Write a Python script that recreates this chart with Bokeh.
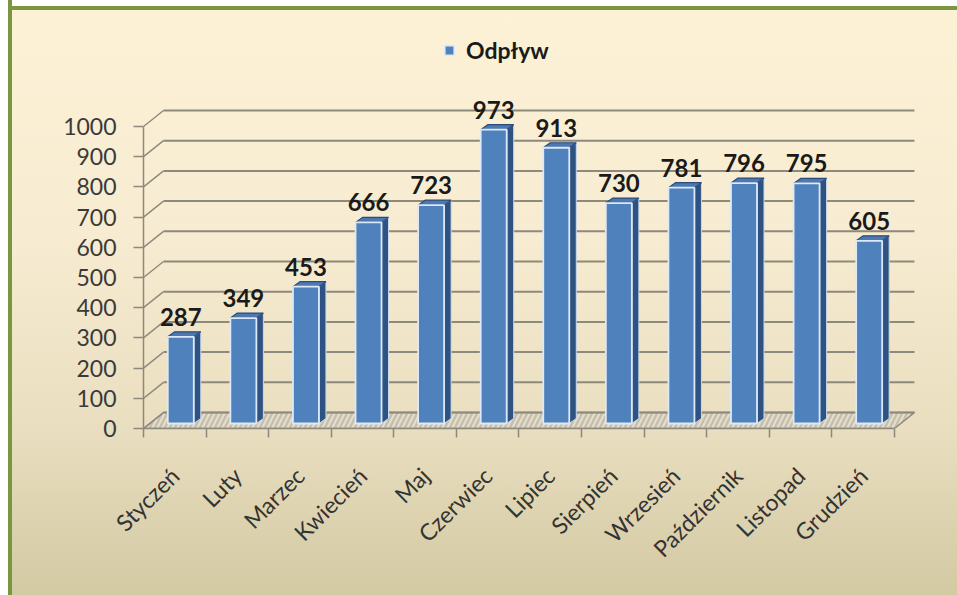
import numpy as np
from bokeh.plotting import figure
from bokeh.models import FixedTicker, Range1d, Legend, LegendItem, ColumnDataSource
from bokeh.core.properties import value
from bokeh.embed import file_html
from bokeh.resources import INLINE

# ---------------- data ----------------
months = ["Styczeń", "Luty", "Marzec", "Kwiecień", "Maj", "Czerwiec",
          "Lipiec", "Sierpień", "Wrzesień", "Październik", "Listopad", "Grudzień"]
values = [287, 349, 453, 666, 723, 973, 913, 730, 781, 796, 795, 605]
y_ticks = [0, 100, 200, 300, 400, 500, 600, 700, 800, 900, 1000]
series_name = "Odpływ"

# ---------------- layout ----------------
W, H = 957, 595
ML, MR, MT, MB = 143, 27, 20, 167
frame_w = W - ML - MR
frame_h = H - MT - MB
n = len(months)
px_per_cat = 62.58
px_per_val = 0.302
kx = 1.0 / px_per_cat
ky = 1.0 / px_per_val
x_start = -0.5
x_end = x_start + frame_w * kx
y_end = frame_h * ky

# 3D offsets (px)
BDX, BDY = 20, 16      # back wall depth
FDX, FDY = 6, 5        # bar front face depth
SDX, SDY = 7, 5        # bar side depth
HALF = 13              # half bar width

bdx, bdy = BDX * kx, BDY * ky
fdx, fdy = FDX * kx, FDY * ky
sdx, sdy = SDX * kx, SDY * ky
hw = HALF * kx

p = figure(width=W, height=H, output_backend="svg", toolbar_location=None,
           x_range=Range1d(x_start, x_end), y_range=Range1d(0, y_end),
           min_border_left=ML, min_border_right=MR, min_border_top=MT, min_border_bottom=MB)
p.background_fill_alpha = 0
p.border_fill_alpha = 0
p.outline_line_color = None
GREEN = "#7B9641"
p.styles = {
    "background-color": "#D3C9A3",
    "background-image": (
        "linear-gradient(90deg, #ffffff 0px, #ffffff 8px, " + GREEN + " 8px, " + GREEN + " 12px, transparent 12px), "
        "linear-gradient(180deg, #ffffff 0px, #ffffff 6px, " + GREEN + " 6px, " + GREEN + " 10px, transparent 10px), "
        "linear-gradient(180deg, #FDF1D6 0%, #F7ECD1 40%, #E9DEBF 72%, #D3C9A3 100%)"
    ),
    "background-repeat": "no-repeat",
    "background-size": "100% 100%",
}
p.xgrid.visible = False
p.ygrid.visible = False

GRID = "#8E897D"
lo, hi = x_start, n - 0.5

# floor
p.patch([lo, hi, hi + bdx, lo + bdx], [0, 0, bdy, bdy],
        fill_color="#E6DFCD", line_color=GRID, line_width=1.5,
        hatch_pattern="/", hatch_color="#B9B29F", hatch_scale=10, hatch_weight=2.5, hatch_alpha=0.7)

# back-wall gridlines + diagonals
t = np.array(y_ticks, dtype=float)
p.segment(x0=[lo + bdx] * len(t), y0=t + bdy, x1=[hi + bdx] * len(t), y1=t + bdy,
          line_color=GRID, line_width=2)
p.segment(x0=[lo] * len(t), y0=t, x1=[lo + bdx] * len(t), y1=t + bdy,
          line_color=GRID, line_width=1.5)

# bars
v = np.array(values, dtype=float)
cx = np.arange(n) + fdx
left = cx - hw
right = cx + hw
bottom = np.full(n, fdy)
top = v + fdy

side_xs = [[r, r + sdx, r + sdx, r] for r in right]
side_ys = [[b, b + sdy, tp + sdy, tp] for b, tp in zip(bottom, top)]
top_xs = [[l, r, r + sdx, l + sdx] for l, r in zip(left, right)]
top_ys = [[tp, tp, tp + sdy, tp + sdy] for tp in top]

p.patches(side_xs, side_ys, fill_color="#2E5282", line_color="#C9DAEE", line_width=1)
p.patches(top_xs, top_ys, fill_color="#4D78B2", line_color="#2B4C7A", line_width=1.2)
front = p.quad(left=left, right=right, bottom=bottom, top=top,
               fill_color="#4F81BD", line_color="#DDE9F6", line_width=1.8)

# value labels
src = ColumnDataSource(dict(x=cx, y=top, t=[str(x) for x in values]))
p.text(x="x", y="y", text="t", source=src, y_offset=-20,
       text_align="center", text_baseline="alphabetic",
       text_font=value("Lato"), text_font_style="bold", text_font_size="24px",
       text_color="#1A1A1A")

# axes
p.yaxis.ticker = FixedTicker(ticks=y_ticks, minor_ticks=[])
p.yaxis.bounds = (0, 1000)
p.yaxis.axis_line_color = GRID
p.yaxis.axis_line_width = 1.5
p.yaxis.major_tick_line_color = GRID
p.yaxis.major_tick_line_width = 1.5
p.yaxis.major_tick_out = 10
p.yaxis.major_tick_in = 0
p.yaxis.minor_tick_line_color = None
p.yaxis.major_label_standoff = 17
p.yaxis.major_label_text_font = "Lato"
p.yaxis.major_label_text_font_size = "23px"
p.yaxis.major_label_text_color = "#3A3A3A"

p.xaxis.ticker = FixedTicker(ticks=list(range(n)), minor_ticks=[i - 0.5 for i in range(n + 1)])
p.xaxis.bounds = (lo, hi)
p.xaxis.major_label_overrides = {i: m for i, m in enumerate(months)}
p.xaxis.major_label_orientation = np.pi / 4
p.xaxis.axis_line_color = GRID
p.xaxis.axis_line_width = 1.5
p.xaxis.major_tick_line_color = None
p.xaxis.major_tick_out = 0
p.xaxis.major_tick_in = 0
p.xaxis.minor_tick_line_color = GRID
p.xaxis.minor_tick_line_width = 1.5
p.xaxis.minor_tick_out = 9
p.xaxis.minor_tick_in = 0
p.xaxis.major_label_standoff = 34
p.xaxis.major_label_text_font = "Lato"
p.xaxis.major_label_text_font_size = "23px"
p.xaxis.major_label_text_color = "#333333"

# legend
legend = Legend(items=[LegendItem(label=series_name, renderers=[front])],
                location=(300, 364), orientation="horizontal",
                glyph_width=12, glyph_height=12, label_standoff=11,
                padding=0, margin=0, spacing=0,
                background_fill_alpha=0, border_line_alpha=0,
                label_text_font="Lato", label_text_font_style="bold",
                label_text_font_size="23px", label_text_color="#1A1A1A")
p.add_layout(legend)

open("out.html", "w").write(file_html(p, INLINE))
